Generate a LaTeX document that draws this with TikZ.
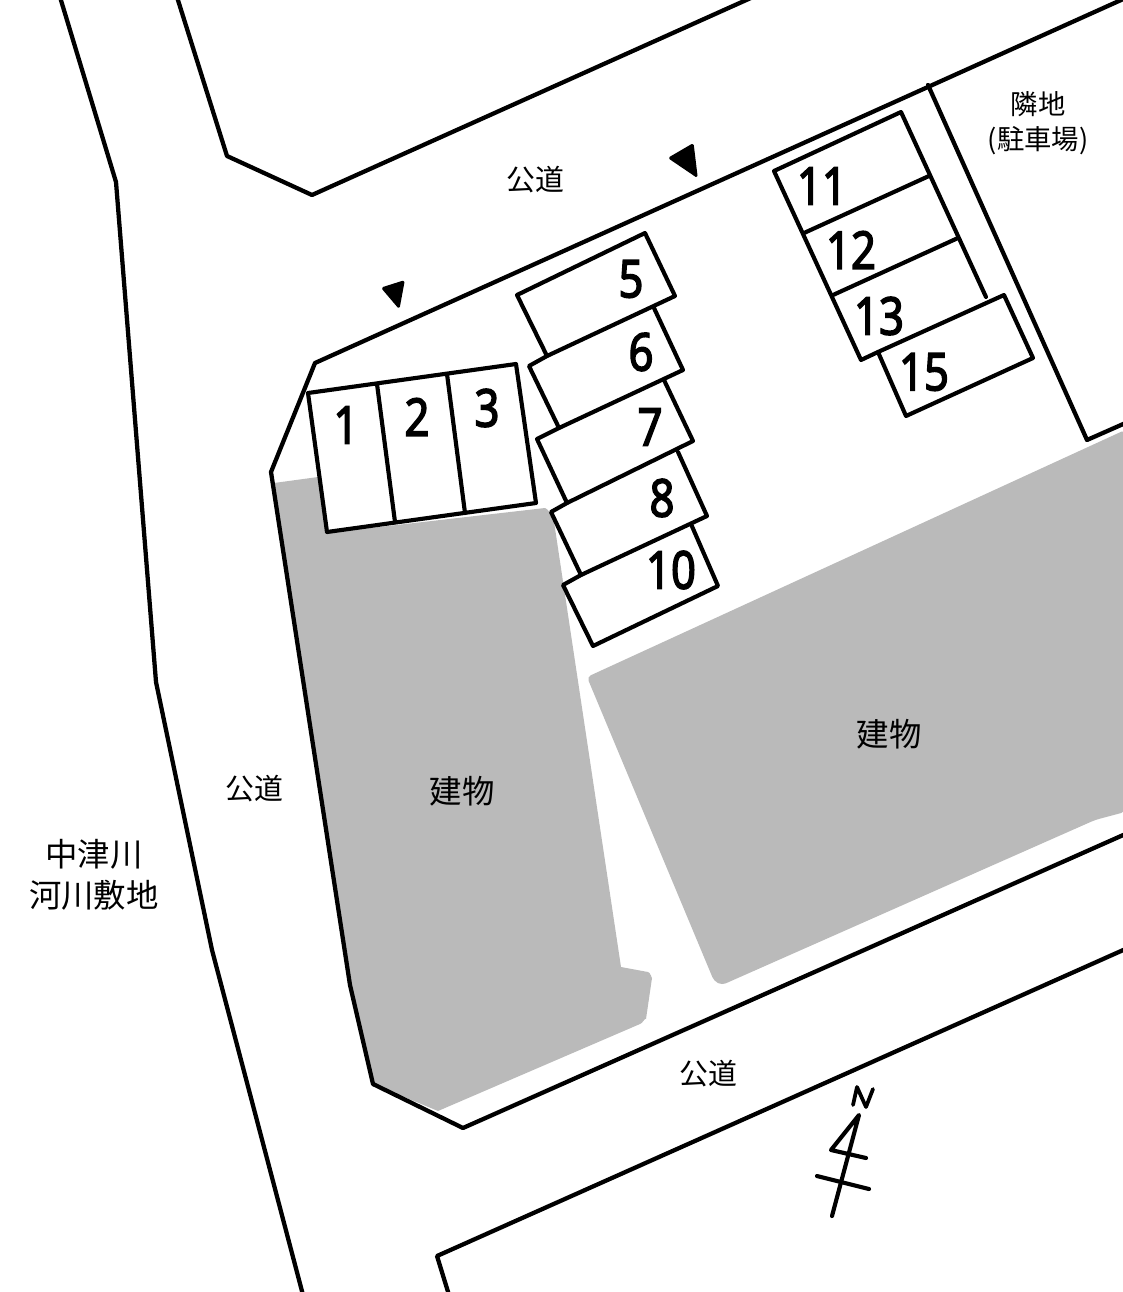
\documentclass[tikz,border=0pt]{standalone}
\usepackage{fontspec}
\setmainfont{Noto Sans CJK JP}
\newfontfamily\digitfont[FakeBold=3]{Noto Sans}
\definecolor{bldg}{RGB}{186,186,186}
\tikzset{
  wall/.style={draw=black,line width=3.2pt,line join=round,line cap=round},
  lot/.style={draw=black,line width=3.1pt,line join=round,line cap=round},
  bldgfill/.style={fill=bldg,draw=none},
  marker/.style={fill=black,draw=black,line width=1pt,line join=round},
  num/.style={font=\digitfont\fontsize{39}{39}\selectfont,inner sep=0pt,xscale=.84},
  road/.style={font=\fontsize{21.7}{21.7}\selectfont,inner sep=0pt},
  big/.style={font=\fontsize{24.3}{24.3}\selectfont,inner sep=0pt},
  small/.style={font=\fontsize{20.5}{26.5}\selectfont,inner sep=0pt,align=center},
}
\begin{document}
\begin{tikzpicture}[x=0.75pt,y=-0.75pt]
\useasboundingbox (0,0) rectangle (1123,1292);
\clip (0,0) rectangle (1123,1292);
% buildings
\fill[bldgfill] (274,483)--(318,477)--(327,533)--(545,508) to[out=0,in=-100,looseness=.6] (553,515)--(621,967)--(648,972) to[out=10,in=-80,looseness=.8] (652,978)--(646,1019) to[out=95,in=10,looseness=.8] (640,1024)--(438,1111)--(373,1084)--(350,985)--cycle;
\fill[bldgfill,rounded corners=3pt] (587,677)--(1125,430)--(1125,812)--(1095,820)--(722,985)--(714,981)--cycle;
% roads
\draw[wall] (60,-3)--(116,182)--(156,682)--(212,950)--(303,1295);
\draw[wall] (177,-3)--(227,156)--(312,195)--(753,-3);
\draw[wall] (1130,-4)--(315,363)--(271,472)--(350,985)--(373,1084)--(463,1128)--(1130,832);
\draw[wall] (928,85)--(1087,440)--(1130,421);
\draw[wall] (1130,947)--(437,1256)--(449,1295);
% lots 1-3
\draw[lot] (308,393)--(516,364)--(536,503)--(327,532)--cycle;
\draw[lot] (377,384)--(395,522);
\draw[lot] (447,374)--(465,513);
% lots 5-10
\draw[lot] (517,295)--(645,233)--(675,296)--(547,356)--cycle;
\draw[lot] (547,356)--(529,366)--(559,428)--(683,370)--(654,308);
\draw[lot] (559,428)--(537,439)--(567,503)--(693,441)--(664,380);
\draw[lot] (567,503)--(551,512)--(581,575)--(707,516)--(678,452);
\draw[lot] (581,575)--(563,585)--(593,646)--(718,586)--(691,524);
% lots 11-15
\draw[lot] (986,297)--(901,112)--(774,171)--(861,360)--(878,352);
\draw[lot] (804,233)--(929,176);
\draw[lot] (833,295)--(958,238);
\draw[lot] (878,352)--(1004,295)--(1033,358)--(906,416)--cycle;
% markers
\fill[marker,rounded corners=1pt] (382,288)--(404,281)--(399,308)--cycle;
\fill[marker,rounded corners=1pt] (669,158)--(693,144)--(697,177)--cycle;
% north sign
\draw[lot,line width=2.8pt] (853,1105)--(857,1087)--(866,1107)--(873,1089);
\draw[lot] (832,1216)--(859,1115)--(831,1150)--(866,1158);
\draw[lot] (817,1176)--(869,1189);
% numbers
\node[num] (n1) at (346,425) {1};
\node[num] (n2) at (417,417) {2};
\node[num] (n3) at (487,408) {3};
\node[num] (n5) at (631,279) {5};
\node[num] (n6) at (641,352) {6};
\node[num] (n7) at (650,427) {7};
\node[num] (n8) at (662,498) {8};
\node[num] (n10) at (671,570) {10};
\node[num] (n11) at (822,186) {11};
\node[num] (n12) at (851,250) {12};
\node[num] (n13) at (879,316) {13};
\node[num] (n15) at (924,372) {15};
% labels
\node[road] (r1) at (535,180) {公道};
\node[road] (r2) at (254,789) {公道};
\node[road] (r3) at (708,1074) {公道};
\node[big] (b1) at (462,791) {建物};
\node[big] (b2) at (889,734) {建物};
\node[big] (river1) at (94,854) {中津川};
\node[big] (river2) at (94,895) {河川敷地};
\node[small] (nb) at (1038,123.5) {隣地\\(駐車場)};
\end{tikzpicture}
\end{document}
